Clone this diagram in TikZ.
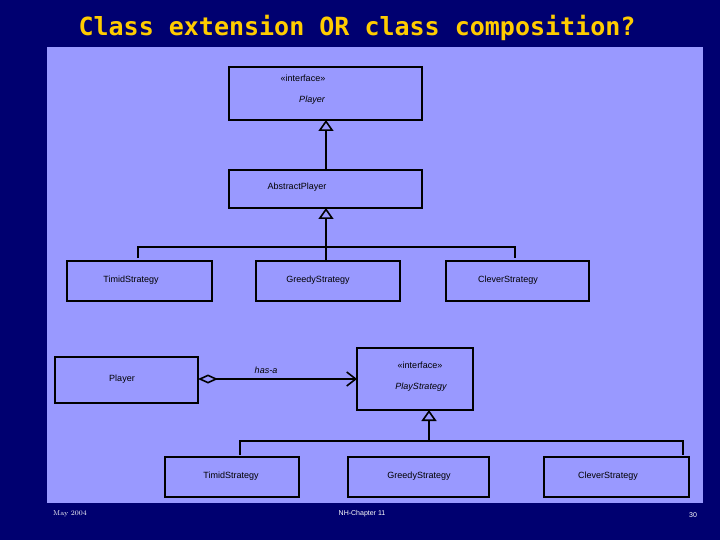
\documentclass[tikz,border=0pt]{standalone}
\usepackage{fontspec}
\setsansfont{Liberation Sans}
\newfontfamily\titlefont{DejaVu Sans Mono}
\usetikzlibrary{arrows.meta}
\definecolor{bgnavy}{HTML}{000070}
\definecolor{panel}{HTML}{9999FF}
\definecolor{titley}{HTML}{FFCC00}
\tikzset{
 cls/.style={draw=black,line width=1.6pt,fill=panel,font=\sffamily\small},
 ln/.style={line width=1.6pt},
 inh/.style={ln,-{Triangle[open,length=11pt,width=15pt,line width=1.6pt]}},
 foot/.style={text=white,font=\rmfamily\scriptsize}
}
\begin{document}
\begin{tikzpicture}[x=1pt,y=-1pt]
\fill[bgnavy] (0,0) rectangle (720,540);
\useasboundingbox (0,0) rectangle (720,540);
\fill[panel] (47,47) rectangle (703,503);
\node[text=titley,font=\titlefont\bfseries\fontsize{25}{28}\selectfont] (title) at (357,28) {Class extension OR class composition?};
% top hierarchy
\draw[cls] (229,67) rectangle (422,120);
\node[font=\sffamily\small] (ip1) at (303,78) {«interface»};
\node[font=\sffamily\small\itshape] (ip2) at (312,100) {Player};
\coordinate (ipb) at (326,120);
\draw[cls] (229,170) rectangle (422,208);
\node[font=\sffamily\small] (ap) at (297,187) {AbstractPlayer};
\coordinate (apt) at (326,170);
\coordinate (apb) at (326,208);
\draw[inh] (apt) -- (ipb);
\coordinate (bar1) at (326,247);
\draw[inh] (bar1) -- (apb);
\draw[ln] (138,258) -- (138,247) -- (515,247) -- (515,258);
\draw[cls] (67,261) rectangle (212,301); \node[font=\sffamily\small] (t1) at (131,280) {TimidStrategy};
\draw[cls] (256,261) rectangle (400,301); \node[font=\sffamily\small] (g1) at (318,280) {GreedyStrategy};
\draw[cls] (446,261) rectangle (589,301); \node[font=\sffamily\small] (c1) at (508,280) {CleverStrategy};
\draw[ln] (326,247) -- (326,261);
% composition
\draw[cls] (55,357) rectangle (198,403); \node[font=\sffamily\small] (pl) at (122,379) {Player};
\draw[cls] (357,348) rectangle (473,410);
\node[font=\sffamily\small] (ps1) at (420,365) {«interface»};
\node[font=\sffamily\small\itshape] (ps2) at (421,387) {PlayStrategy};
\coordinate (plr) at (198,379);
\coordinate (psl) at (357,379);
\draw[ln,{Diamond[open,length=20pt,width=9pt,line width=1.6pt]}-{Straight Barb[length=9pt,width=14pt]}] (plr) -- (psl);
\node[font=\sffamily\small\itshape] (has) at (266,370) {has-a};
\coordinate (psb) at (429,410);
\coordinate (bar2) at (429,441);
\draw[inh] (bar2) -- (psb);
\draw[ln] (240,455) -- (240,441) -- (683,441) -- (683,455);
\draw[cls] (165,457) rectangle (299,497); \node[font=\sffamily\small] (t2) at (231,476) {TimidStrategy};
\draw[cls] (348,457) rectangle (489,497); \node[font=\sffamily\small] (g2) at (419,476) {GreedyStrategy};
\draw[cls] (544,457) rectangle (689,497); \node[font=\sffamily\small] (c2) at (608,476) {CleverStrategy};
% footer
\node[foot] (f1) at (70,514) {May 2004};
\node[foot,font=\sffamily\scriptsize] (f2) at (362,514) {NH-Chapter 11};
\node[foot,font=\sffamily\scriptsize] (f3) at (693,515) {30};
\end{tikzpicture}
\end{document}
